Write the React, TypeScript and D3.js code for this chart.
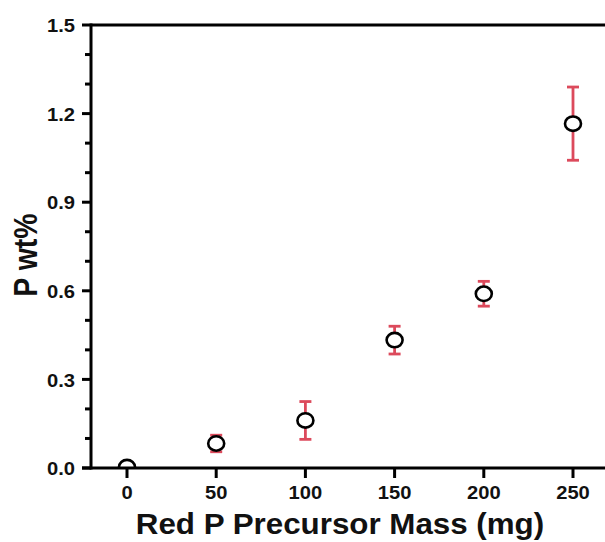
import React from "react";
import * as d3 from "d3";

const masses = [0, 50, 100, 150, 200, 250];
const pwt = [0.003, 0.083, 0.161, 0.433, 0.59, 1.166];
const errs = [0.004, 0.028, 0.064, 0.047, 0.042, 0.124];
const xTicks = [0, 50, 100, 150, 200, 250];
const yTicks = [0, 0.3, 0.6, 0.9, 1.2, 1.5];
const yMinor = [0.1, 0.2, 0.4, 0.5, 0.7, 0.8, 1.0, 1.1, 1.3, 1.4];

const W = 605, H = 542;
const left = 91, top = 25, bottom = 468, rightEdge = 640;

export default function App() {
  const x = d3.scaleLinear().domain([0, 250]).range([127, 573]);
  const y = d3.scaleLinear().domain([0, 1.5]).range([bottom, top]);
  const red = "#dc4a5c";
  const font = "'Liberation Sans', Arial, sans-serif";
  const sx = 1.12;
  return (
    <svg width={W} height={H} style={{ position: "absolute", left: 0, top: 0, background: "#fff" }}>
      <defs>
        <clipPath id="plotclip">
          <rect x={left} y={top} width={rightEdge - left} height={bottom - top} />
        </clipPath>
      </defs>
      <rect x={0} y={0} width={W} height={H} fill="#fff" />
      {/* error bars and points */}
      <g clipPath="url(#plotclip)">
        {masses.map((m, i) => {
          const cx = x(m);
          const y1 = y(pwt[i] + errs[i]);
          const y0 = y(pwt[i] - errs[i]);
          return (
            <g key={"e" + i} stroke={red} strokeWidth={2.8}>
              <line x1={cx} x2={cx} y1={y1} y2={y0} />
              <line x1={cx - 6} x2={cx + 6} y1={y1} y2={y1} />
              <line x1={cx - 6} x2={cx + 6} y1={y0} y2={y0} />
            </g>
          );
        })}
        {masses.map((m, i) => (
          <ellipse key={"p" + i} cx={x(m)} cy={y(pwt[i])} rx={8} ry={7.2}
            fill="#fff" stroke="#000" strokeWidth={2.6} />
        ))}
      </g>
      {/* frame */}
      <g stroke="#000" strokeWidth={3} fill="none">
        <line x1={left} x2={rightEdge} y1={top} y2={top} />
        <line x1={left - 9} x2={rightEdge} y1={bottom} y2={bottom} />
        <line x1={left} x2={left} y1={top - 1.5} y2={bottom + 1.5} />
        {yTicks.map((t) => (
          <line key={"yt" + t} x1={left - 9} x2={left} y1={y(t)} y2={y(t)} />
        ))}
        {yMinor.map((t) => (
          <line key={"ym" + t} x1={left - 6} x2={left} y1={y(t)} y2={y(t)} />
        ))}
        {xTicks.map((t) => (
          <line key={"xt" + t} x1={x(t)} x2={x(t)} y1={bottom} y2={bottom + 10} />
        ))}
      </g>
      {/* tick labels */}
      <g fontFamily={font} fontWeight="bold" fontSize={18} fill="#111">
        {yTicks.map((t) => (
          <text key={"yl" + t} textAnchor="end" dominantBaseline="central"
            transform={`translate(75,${y(t) + 1}) scale(${sx},1)`}>
            {d3.format(".1f")(t)}
          </text>
        ))}
        {xTicks.map((t) => (
          <text key={"xl" + t} textAnchor="middle"
            transform={`translate(${x(t)},499) scale(${sx},1)`}>
            {t}
          </text>
        ))}
      </g>
      <text fontFamily={font} fontWeight="bold" fontSize={29} fill="#111" textAnchor="middle"
        transform={`translate(340,534) scale(1.08,1)`}>
        Red P Precursor Mass (mg)
      </text>
      <text fontFamily={font} fontWeight="bold" fontSize={28.5} fill="#111" textAnchor="middle"
        transform={`translate(37,255) scale(1.15,1) rotate(-90)`}>
        P wt%
      </text>
    </svg>
  );
}
